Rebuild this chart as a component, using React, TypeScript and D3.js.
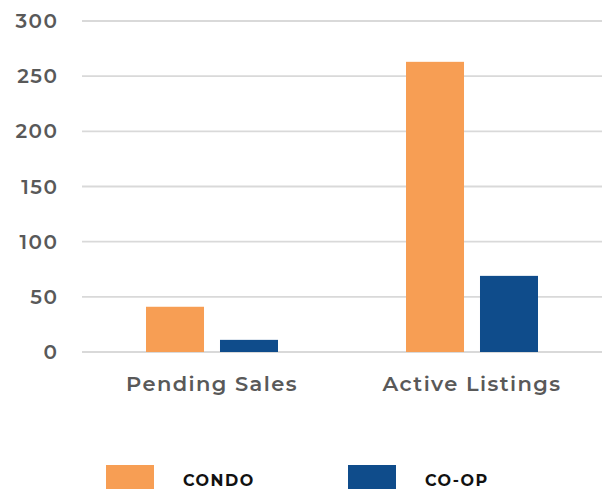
import React from "react";
import * as d3 from "d3";

const categories = ["Pending Sales", "Active Listings"];
const seriesNames = ["CONDO", "CO-OP"];
const condoValues = [41, 263];
const coopValues = [11, 69];
const yTicks = [0, 50, 100, 150, 200, 250, 300];
const seriesColors = ["#F79E54", "#0F4C8B"];

const W = 603;
const H = 489;
const margin = { top: 21, right: 1, bottom: 137, left: 82 };

export default function App() {
  const innerW = W - margin.left - margin.right;
  const innerH = H - margin.top - margin.bottom;

  const x0 = d3.scaleBand().domain(categories).range([0, innerW]).padding(0);
  const x1 = d3
    .scaleBand()
    .domain(seriesNames)
    .range([0, x0.bandwidth()])
    .paddingInner(0.216)
    .paddingOuter(0.865);
  const y = d3.scaleLinear().domain([0, 300]).range([innerH, 0]);

  const rows = categories.map((c, i) => ({
    cat: c,
    vals: [condoValues[i], coopValues[i]],
  }));

  const font = "Montserrat, 'Open Sans', 'DejaVu Sans', sans-serif";

  return (
    <svg
      width={W}
      height={H}
      style={{ position: "absolute", left: 0, top: 0, background: "#fff" }}
    >
      <g transform={`translate(${margin.left},${margin.top})`}>
        {yTicks.map((t) => (
          <g key={t} transform={`translate(0,${y(t)})`}>
            <line x1={0} x2={innerW} stroke="#d9d9d9" strokeWidth={1.8} />
            <text
              x={-23.5}
              dy="0.35em"
              textAnchor="end"
              fill="#595959"
              fontFamily={font}
              fontWeight={600}
              fontSize={20}
              letterSpacing={1.5}
            >
              {t}
            </text>
          </g>
        ))}
        {rows.map((r) => (
          <g key={r.cat} transform={`translate(${x0(r.cat)},0)`}>
            {r.vals.map((v, j) => (
              <rect
                key={j}
                x={x1(seriesNames[j])}
                y={y(v)}
                width={x1.bandwidth()}
                height={y(0) - y(v)}
                fill={seriesColors[j]}
              />
            ))}
            <text
              x={x0.bandwidth() / 2}
              y={innerH + 39}
              textAnchor="middle"
              fill="#595959"
              fontFamily={font}
              fontWeight={600}
              fontSize={21}
              letterSpacing={1.4}
            >
              {r.cat}
            </text>
          </g>
        ))}
      </g>
      {seriesNames.map((s, i) => (
        <g key={s} transform={`translate(${106 + i * 242},465)`}>
          <rect width={48} height={24} fill={seriesColors[i]} />
          <text
            x={77}
            y={21}
            fill="#111"
            fontFamily={font}
            fontWeight={700}
            fontSize={16}
            letterSpacing={1.5}
          >
            {s}
          </text>
        </g>
      ))}
    </svg>
  );
}
